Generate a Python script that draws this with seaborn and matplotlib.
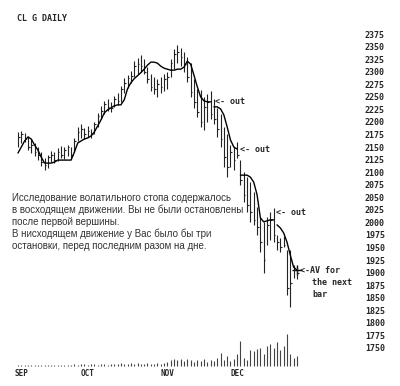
import numpy as np
import pandas as pd
import matplotlib
matplotlib.use("Agg")
import matplotlib.pyplot as plt
import seaborn as sns

# === Daily bars (price) ===
highs = [2180, 2182, 2178, 2172, 2165, 2158, 2150, 2140, 2128, 2135,
         2142, 2140, 2148, 2152, 2150, 2155, 2150, 2168, 2190, 2195,
         2188, 2192, 2186, 2200, 2218, 2232, 2242, 2246, 2240, 2252,
         2258, 2272, 2288, 2294, 2302, 2322, 2328, 2334, 2325, 2310,
         2295, 2290, 2285, 2290, 2295, 2300, 2325, 2345, 2353, 2348,
         2340, 2330, 2318, 2285, 2265, 2264, 2250, 2255, 2262, 2245,
         2228, 2215, 2190, 2175, 2155, 2150, 2160, 2125, 2100, 2090,
         2080, 2060, 2030, 2010, 2000, 2010, 2020, 2028, 1975, 1968,
         1972, 1945, 1945, 1915, 1912]
lows = [2150, 2158, 2160, 2145, 2138, 2132, 2125, 2112, 2105, 2108,
        2120, 2118, 2122, 2128, 2126, 2132, 2128, 2140, 2162, 2168,
        2166, 2170, 2168, 2175, 2190, 2205, 2215, 2222, 2220, 2230,
        2234, 2240, 2258, 2268, 2278, 2290, 2296, 2300, 2295, 2278,
        2262, 2255, 2250, 2258, 2262, 2265, 2290, 2305, 2318, 2312,
        2300, 2280, 2250, 2228, 2210, 2190, 2184, 2200, 2205, 2195,
        2170, 2150, 2110, 2090, 2110, 2105, 2128, 2075, 2040, 2020,
        2000, 1995, 1975, 1940, 1900, 1955, 1965, 1960, 1945, 1940,
        1950, 1855, 1832, 1890, 1888]
closes = [2170, 2175, 2165, 2150, 2155, 2140, 2135, 2120, 2115, 2130,
          2135, 2125, 2140, 2135, 2145, 2150, 2135, 2162, 2180, 2185,
          2175, 2182, 2175, 2195, 2212, 2222, 2235, 2230, 2228, 2246,
          2242, 2266, 2278, 2288, 2292, 2312, 2316, 2312, 2300, 2285,
          2270, 2265, 2275, 2270, 2285, 2290, 2318, 2335, 2340, 2330,
          2315, 2290, 2260, 2240, 2220, 2200, 2230, 2240, 2215, 2205,
          2185, 2165, 2130, 2110, 2140, 2125, 2135, 2085, 2055, 2035,
          2020, 2005, 1990, 1960, 1925, 1995, 2005, 1975, 1960, 1950,
          1955, 1870, 1880, 1905, 1900]

# volatility stop, new segment starts at each break index
stop = [2138, 2150, 2162, 2170, 2166, 2154, 2144, 2130, 2118, 2118,
        2118, 2120, 2124, 2124, 2124, 2124, 2124, 2140, 2158, 2162,
        2166, 2168, 2172, 2180, 2192, 2204, 2218, 2224, 2228, 2232,
        2234, 2234, 2244, 2266, 2278, 2286, 2292, 2298, 2305, 2313,
        2319, 2319, 2317, 2311, 2307, 2305, 2303, 2303, 2305, 2305,
        2309, 2321, 2315, 2293, 2270, 2250, 2242, 2240, 2240, 2230,
        2230, 2226, 2214, 2190, 2164, 2150, 2146, 2094, 2094, 2094,
        2090, 2080, 2055, 2009, 2001, 2003, 2005, 2005, 1995, 1989,
        1979, 1961, 1935, 1911, 1905]
stop_breaks = [59, 67, 78]

volume = [1, 1, 1, 1, 1, 1, 1, 1, 1, 1,
          1, 1, 1, 1, 1, 1, 1, 2, 1, 2,
          2, 1, 2, 2, 1, 2, 2, 1, 2, 2,
          2, 3, 2, 2, 3, 2, 3, 2, 2, 3,
          2, 2, 3, 2, 3, 4, 6, 7, 6, 7,
          5, 7, 6, 4, 6, 5, 7, 4, 6, 5,
          8, 13, 6, 10, 5, 7, 12, 25, 8, 6,
          16, 15, 17, 18, 12, 20, 22, 18, 24, 16,
          20, 32, 12, 8, 10]

months = ["SEP", "OCT", "NOV", "DEC"]
month_pos = [1, 21, 45, 66]
price_ticks = list(range(1750, 2400, 25))

ru_text = ("Исследование волатильного стопа содержалось\n"
           "в восходящем движении. Вы не были остановлены\n"
           "после первой вершины.\n"
           "В нисходящем движение у Вас было бы три\n"
           "остановки, перед последним разом на дне.")

df = pd.DataFrame({"bar": np.arange(len(highs)), "high": highs, "low": lows,
                   "close": closes, "stop": stop, "volume": volume})
df["seg"] = np.searchsorted(stop_breaks, df["bar"], side="right")

sns.set_style("white")
mono = "DejaVu Sans Mono"

fig = plt.figure(figsize=(4.0, 3.86), dpi=100)
ax = fig.add_axes([8 / 400, 18 / 386, 352 / 400, 340 / 386])
ax2 = ax.twinx()

# price bars
ax.vlines(df["bar"], df["low"], df["high"], color="#222222", lw=0.8)
ax.hlines(df["close"], df["bar"], df["bar"] + 0.5, color="#222222", lw=0.8)

# stop line
sns.lineplot(data=df, x="bar", y="stop", units="seg", estimator=None,
             color="black", lw=1.0, ax=ax)
sns.scatterplot(x=df["bar"].iloc[-1:], y=df["stop"].iloc[-1:], marker="+",
                s=45, color="black", linewidth=1.0, ax=ax)

# volume
ax2.vlines(df["bar"], 0, df["volume"], color="#444444", lw=0.8)
ax2.set_ylim(-2, 338)
ax2.set_yticks([])
ax2.set_ylabel("")

ax.set_xlim(-3.0, 103.0)
ax.set_ylim(1710, 2387)
ax.set_yticks(price_ticks)
ax.set_yticklabels([str(p) for p in price_ticks], fontsize=6,
                   family=mono, fontweight="bold")
ax.yaxis.tick_right()
ax.set_xticks(month_pos)
ax.set_xticklabels(months, fontsize=5.5, family=mono, fontweight="bold")
ax.tick_params(axis="y", length=0, pad=3.5)
ax.tick_params(axis="x", length=0, pad=1.0)
ax.set_xlabel("")
ax.set_ylabel("")
for a in (ax, ax2):
    for s in a.spines.values():
        s.set_visible(False)

# annotations
note = dict(fontsize=6, family=mono, fontweight="bold", va="center", ha="left")
ax.text(59.3, 2240, "<- out", **note)
ax.text(66.9, 2146, "<- out", **note)
ax.text(77.7, 2019, "<- out", **note)
ax.text(84.9, 1905, "<-AV for", **note)
ax.text(88.6, 1880, "the next", **note)
ax.text(88.6, 1857, "bar", **note)

fig.text(17 / 400, 1 - 18.5 / 386, "CL G DAILY", fontsize=6, family=mono,
         fontweight="bold", va="center", ha="left")
fig.text(12 / 400, 1 - 193 / 386, ru_text, fontsize=7, family="Liberation Sans",
         color="#333333", va="top", ha="left", linespacing=1.2)

fig.savefig("out.png", dpi=100)
